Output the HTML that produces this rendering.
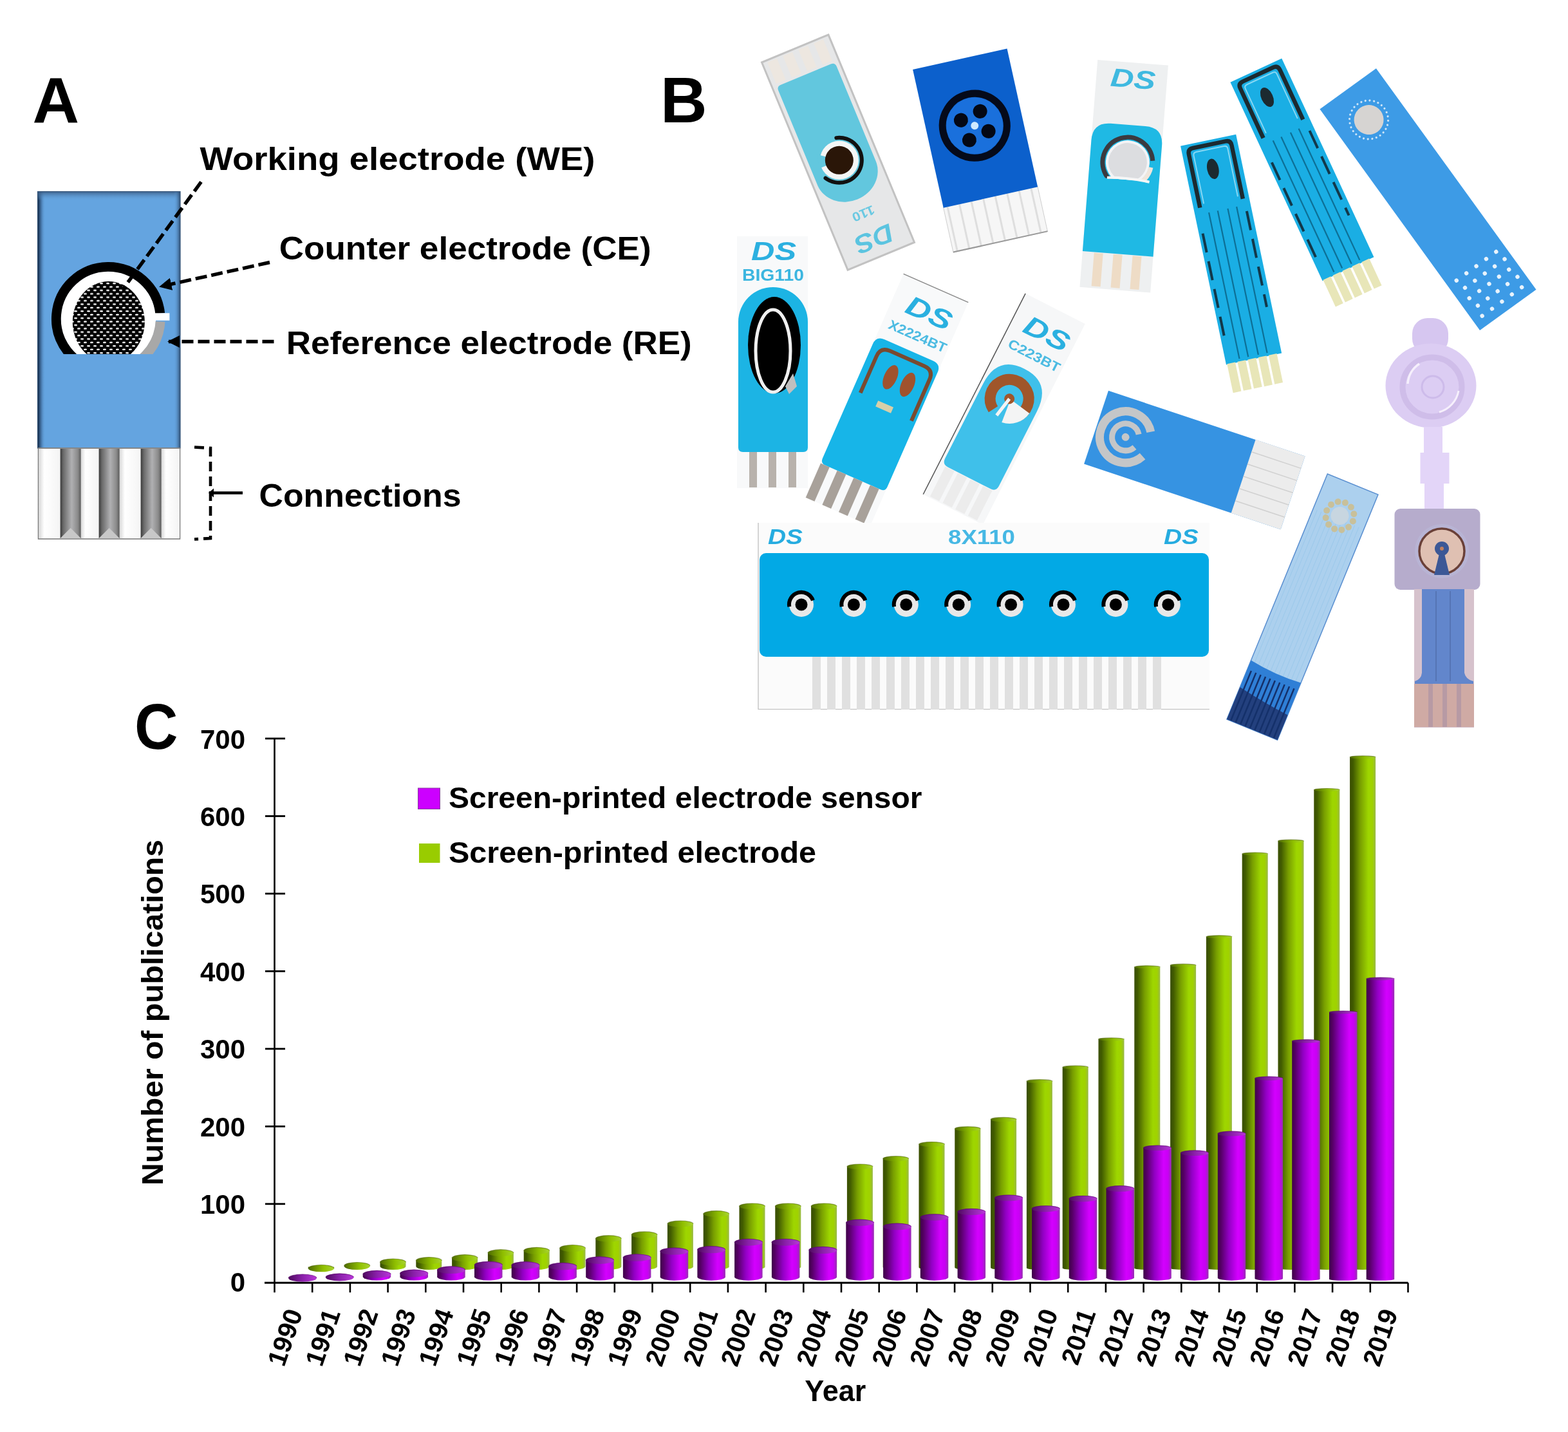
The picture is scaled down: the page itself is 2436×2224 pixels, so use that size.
<!DOCTYPE html>
<html><head><meta charset="utf-8"><title>Screen-printed electrodes</title>
<style>
html,body{margin:0;padding:0;background:#fff;}
svg{display:block;}
text{font-family:'Liberation Sans', Arial, sans-serif;}
</style></head>
<body>
<svg width="2436" height="2224" viewBox="0 0 2436 2224">
<defs>
<pattern id="mesh" x="0" y="0" width="10" height="10.8" patternUnits="userSpaceOnUse">
  <rect width="10" height="10.8" fill="#000"/>
  <ellipse cx="2.5" cy="2.7" rx="2.6" ry="1.3" fill="#fff"/>
  <ellipse cx="7.5" cy="8.1" rx="2.6" ry="1.3" fill="#fff"/>
</pattern>
<linearGradient id="pinG" x1="0" x2="1" y1="0" y2="0">
  <stop offset="0" stop-color="#3a3a3a"/>
  <stop offset="0.15" stop-color="#6a6a6a"/>
  <stop offset="0.55" stop-color="#b0b0b2"/>
  <stop offset="0.85" stop-color="#8a8a8a"/>
  <stop offset="1" stop-color="#5a5a5a"/>
</linearGradient>
<linearGradient id="whG" x1="0" x2="1" y1="0" y2="0">
  <stop offset="0" stop-color="#d8d8d8"/>
  <stop offset="0.25" stop-color="#ffffff"/>
  <stop offset="1" stop-color="#f4f4f4"/>
</linearGradient>
<linearGradient id="purG" x1="0" x2="1" y1="0" y2="0">
  <stop offset="0" stop-color="#3e0048"/>
  <stop offset="0.12" stop-color="#560066"/>
  <stop offset="0.4" stop-color="#9200c4"/>
  <stop offset="0.72" stop-color="#d400ff"/>
  <stop offset="0.88" stop-color="#c800f4"/>
  <stop offset="1" stop-color="#9630b0"/>
</linearGradient>
<linearGradient id="purT" x1="0" x2="1" y1="0" y2="0">
  <stop offset="0" stop-color="#4e0a5e"/>
  <stop offset="0.5" stop-color="#8a20aa"/>
  <stop offset="1" stop-color="#b838d8"/>
</linearGradient>
<linearGradient id="grnT" x1="0" x2="1" y1="0" y2="0">
  <stop offset="0" stop-color="#4e6a00"/>
  <stop offset="0.6" stop-color="#90c000"/>
  <stop offset="1" stop-color="#a8d430"/>
</linearGradient>
<linearGradient id="grnG" x1="0" x2="1" y1="0" y2="0">
  <stop offset="0" stop-color="#3a4e00"/>
  <stop offset="0.12" stop-color="#405a00"/>
  <stop offset="0.4" stop-color="#789e00"/>
  <stop offset="0.72" stop-color="#9ed600"/>
  <stop offset="0.88" stop-color="#a0d200"/>
  <stop offset="1" stop-color="#98b848"/>
</linearGradient>
<marker id="arr" viewBox="0 0 10 10" refX="9" refY="5" markerWidth="3.6" markerHeight="3.6" orient="auto-start-reverse" markerUnits="strokeWidth">
  <path d="M0,0 L10,5 L0,10 z" fill="#000"/>
</marker>
<linearGradient id="shL" x1="0" x2="1" y1="0" y2="0">
  <stop offset="0" stop-color="#0a1a30" stop-opacity="0.95"/>
  <stop offset="0.45" stop-color="#1e3a60" stop-opacity="0.45"/>
  <stop offset="1" stop-color="#64a4e0" stop-opacity="0"/>
</linearGradient>
<linearGradient id="shR" x1="1" x2="0" y1="0" y2="0">
  <stop offset="0" stop-color="#2a4668" stop-opacity="0.9"/>
  <stop offset="1" stop-color="#64a4e0" stop-opacity="0"/>
</linearGradient>
<linearGradient id="shT" x1="0" x2="0" y1="0" y2="1">
  <stop offset="0" stop-color="#3a5a80" stop-opacity="0.9"/>
  <stop offset="1" stop-color="#64a4e0" stop-opacity="0"/>
</linearGradient>
<clipPath id="elClip"><rect x="60" y="380" width="220" height="170"/></clipPath>
</defs>
<rect width="2436" height="2224" fill="#fff"/>
<text x="50.5" y="191" font-size="100.5" font-weight="bold" fill="#000" text-anchor="start" >A</text>
<rect x="58.5" y="297.5" width="221.5" height="398.5" fill="#64a4e0"/>
<rect x="58.5" y="297.5" width="12" height="398.5" fill="url(#shL)"/>
<rect x="58.5" y="297.5" width="221.5" height="14" fill="url(#shT)"/>
<rect x="270" y="297.5" width="10" height="398.5" fill="url(#shR)"/>
<rect x="58.5" y="297.5" width="221.5" height="398.5" fill="none" stroke="#35557a" stroke-width="1.2"/>
<g clip-path="url(#elClip)">
<circle cx="168.2" cy="495.2" r="74" fill="#fff"/>
<ellipse cx="168.8" cy="500" rx="56" ry="63" fill="url(#mesh)"/>
<path d="M 154.2 574.9 A 80.9 80.9 0 1 1 248.7 486.7" fill="none" stroke="#000" stroke-width="14.8"/>
<path d="M 249.0 499.4 A 80.9 80.9 0 0 1 175.3 575.8" fill="none" stroke="#a8a8a8" stroke-width="14.8"/>
</g>
<rect x="238" y="486.3" width="25.4" height="11.4" fill="#fff"/>
<rect x="59.5" y="696" width="220" height="141" fill="#fff" stroke="#777" stroke-width="1.5"/>
<rect x="60.5" y="697" width="33.099999999999994" height="139" fill="url(#whG)"/>
<rect x="125.7" y="697" width="27.89999999999999" height="139" fill="url(#whG)"/>
<rect x="185.7" y="697" width="32.900000000000006" height="139" fill="url(#whG)"/>
<rect x="250.7" y="697" width="28.30000000000001" height="139" fill="url(#whG)"/>
<rect x="93.6" y="697" width="32.10000000000001" height="139" fill="url(#pinG)"/>
<path d="M 93.6 836 L 109.65 820 L 125.7 836 Z" fill="#c8c8c8"/>
<rect x="153.6" y="697" width="32.099999999999994" height="139" fill="url(#pinG)"/>
<path d="M 153.6 836 L 169.64999999999998 820 L 185.7 836 Z" fill="#c8c8c8"/>
<rect x="218.6" y="697" width="32.099999999999994" height="139" fill="url(#pinG)"/>
<path d="M 218.6 836 L 234.64999999999998 820 L 250.7 836 Z" fill="#c8c8c8"/>
<line x1="59.5" y1="696" x2="279.5" y2="696" stroke="#888" stroke-width="1.5"/>
<g stroke="#000" stroke-width="5.4" stroke-dasharray="18 7" fill="none">
<line x1="312.5" y1="282.5" x2="191" y2="449"/>
<line x1="419" y1="407.5" x2="249" y2="445" marker-end="url(#arr)"/>
<line x1="425.5" y1="530.5" x2="262" y2="530.5" marker-end="url(#arr)"/>
</g>
<g stroke="#000" stroke-width="4.6" fill="none">
<path d="M 302 694.5 L 327 696 L 327 836 L 302 837.5" stroke-dasharray="15 8"/>
<line x1="329" y1="765.5" x2="377" y2="765.5" />
</g>
<path d="M 332 758.5 L 324 765.5 L 332 772.5 Z" fill="#000"/>
<text x="310.5" y="263.8" font-size="49.3" font-weight="bold" fill="#000" text-anchor="start" textLength="614" lengthAdjust="spacingAndGlyphs" >Working electrode (WE)</text>
<text x="433.7" y="403.3" font-size="49.3" font-weight="bold" fill="#000" text-anchor="start" textLength="578" lengthAdjust="spacingAndGlyphs" >Counter electrode (CE)</text>
<text x="444.7" y="549.7" font-size="49.3" font-weight="bold" fill="#000" text-anchor="start" textLength="630" lengthAdjust="spacingAndGlyphs" >Reference electrode (RE)</text>
<text x="402.5" y="786.8" font-size="49.3" font-weight="bold" fill="#000" text-anchor="start" textLength="314" lengthAdjust="spacingAndGlyphs" >Connections</text>
<text x="1026" y="190" font-size="100.5" font-weight="bold" fill="#000" text-anchor="start" >B</text>
<g transform="translate(1302 236.6) rotate(-22.5)"><rect x="-56" y="-174.5" width="112" height="349" fill="#e6e7e8" stroke="#c2c2c2" stroke-width="3"/><rect x="-48" y="-171" width="16" height="36" fill="#ede7e0"/><rect x="-22" y="-171" width="16" height="36" fill="#ede7e0"/><rect x="4" y="-171" width="16" height="36" fill="#ede7e0"/><rect x="30" y="-171" width="16" height="36" fill="#ede7e0"/><path d="M -49 -124 Q -49 -131 -42 -131 L 42 -131 Q 49 -131 49 -124 L 49 35 A 49 44 0 0 1 -49 35 Z" fill="#62c7de"/><circle cx="-3" cy="12" r="30" fill="#f4f6f6"/><path d="M -3 12 L -32 -10 L -36 12 Z" fill="#62c7de"/><circle cx="-3" cy="12" r="22" fill="#2a1608"/><path d="M 6.1 -21.8 A 35 35 0 1 1 -33.3 29.5" fill="none" stroke="#111" stroke-width="6" stroke-linecap="round"/><text x="0" y="96" font-size="20" fill="#6bc9e2" text-anchor="middle" style="font-family:'Liberation Sans',Arial,sans-serif;font-weight:bold" textLength="36" lengthAdjust="spacingAndGlyphs" transform="rotate(180 0 96)">110</text><text x="0" y="132" font-size="40" fill="#5bc4e0" text-anchor="middle" style="font-family:'Liberation Sans',Arial,sans-serif;font-weight:bold;font-style:italic" textLength="62" lengthAdjust="spacingAndGlyphs" transform="rotate(180 0 132)">DS</text></g>
<g transform="translate(1522.7 233.3) rotate(-12.5)"><rect x="-75" y="74" width="150" height="72" fill="#f6f6f6" stroke="#cfcfcf" stroke-width="1"/><rect x="-70" y="75" width="3" height="70" fill="#dedede"/><rect x="-51" y="75" width="3" height="70" fill="#dedede"/><rect x="-32" y="75" width="3" height="70" fill="#dedede"/><rect x="-13" y="75" width="3" height="70" fill="#dedede"/><rect x="6" y="75" width="3" height="70" fill="#dedede"/><rect x="25" y="75" width="3" height="70" fill="#dedede"/><rect x="44" y="75" width="3" height="70" fill="#dedede"/><rect x="63" y="75" width="3" height="70" fill="#dedede"/><line x1="-75" y1="145.5" x2="75" y2="145.5" stroke="#999" stroke-width="2"/><rect x="-75" y="-145" width="150" height="220" fill="#0c60cc"/><circle cx="0" cy="-39" r="44" fill="#1a70dc"/><circle cx="0" cy="-39" r="50" fill="none" stroke="#050a1a" stroke-width="11"/><circle cx="-19" cy="-52" r="11" fill="#040814"/><circle cx="13" cy="-59" r="11" fill="#040814"/><circle cx="19" cy="-26" r="11" fill="#040814"/><circle cx="-13" cy="-19" r="11" fill="#040814"/><circle cx="0" cy="-39" r="6" fill="#cfeaff"/></g>
<g transform="translate(1746.2 273.7) rotate(4.5)"><rect x="-55" y="-177" width="110" height="354" fill="#eef0f1"/><text x="2" y="-138" font-size="40" fill="#3fb9e0" text-anchor="middle" style="font-family:'Liberation Sans',Arial,sans-serif;font-weight:bold;font-style:italic" textLength="70" lengthAdjust="spacingAndGlyphs">DS</text><path d="M -55 -52 Q -55 -80 -27 -80 L 27 -80 Q 55 -80 55 -52 L 55 121 L -55 121 Z" fill="#1fb9e4"/><clipPath id="s3clip"><rect x="-60" y="-90" width="120" height="95"/></clipPath><g clip-path="url(#s3clip)"><circle cx="4" cy="-22" r="34" fill="#f4f4f6"/><circle cx="4" cy="-22" r="30" fill="#dcdde0"/><path d="M -15.5 11.8 A 39 39 0 1 1 42.6 -27.4" fill="none" stroke="#3a3a40" stroke-width="7"/><path d="M 40.6 -16.9 A 37 37 0 0 1 16.7 12.8" fill="none" stroke="#efe6dc" stroke-width="7"/></g><path d="M -26 4 Q 8 1 40 6" fill="none" stroke="#f6f6f6" stroke-width="4"/><rect x="-37" y="122" width="14" height="52" fill="#eedcc6"/><rect x="-7" y="122" width="14" height="52" fill="#eedcc6"/><rect x="23" y="122" width="14" height="52" fill="#eedcc6"/></g>
<g transform="translate(1917.2 409.7) rotate(-11.8)"><rect x="-44" y="-196.0" width="88" height="347" fill="#1aaee4"/><rect x="-42.5" y="150.0" width="13" height="46" fill="#e8e6b8"/><rect x="-26.0" y="150.0" width="13" height="46" fill="#e8e6b8"/><rect x="-9.5" y="150.0" width="13" height="46" fill="#e8e6b8"/><rect x="7.0" y="150.0" width="13" height="46" fill="#e8e6b8"/><rect x="23.5" y="150.0" width="13" height="46" fill="#e8e6b8"/><path d="M -34 -96.0 L -34 -181.0 Q -34 -189.0 -26 -189.0 L 26 -189.0 Q 34 -189.0 34 -181.0 L 34 -96.0" fill="none" stroke="#1c2a30" stroke-width="6.5"/><path d="M -27 -101.0 L -27 -177.0 Q -27 -182.0 -22 -182.0 L 22 -182.0 Q 27 -182.0 27 -177.0 L 27 -101.0" fill="none" stroke="#86d8f4" stroke-width="2"/><ellipse cx="-2" cy="-151.0" rx="9" ry="16" fill="#1c2a30"/><line x1="-22" y1="-86.0" x2="-22" y2="146.0" stroke="#0d6f96" stroke-width="2.2"/><line x1="-8" y1="-86.0" x2="-8" y2="146.0" stroke="#0d6f96" stroke-width="2.2"/><line x1="8" y1="-86.0" x2="8" y2="146.0" stroke="#0d6f96" stroke-width="2.2"/><line x1="22" y1="-86.0" x2="22" y2="146.0" stroke="#0d6f96" stroke-width="2.2"/><line x1="-38" y1="-56.0" x2="-38" y2="116.0" stroke="#12384a" stroke-width="4" stroke-dasharray="30 14"/><line x1="36" y1="-76.0" x2="36" y2="76.0" stroke="#12384a" stroke-width="4" stroke-dasharray="30 14"/></g>
<g transform="translate(2032.4 283.9) rotate(-24.9)"><rect x="-44" y="-192.5" width="88" height="340" fill="#1aaee4"/><rect x="-42.5" y="146.5" width="13" height="46" fill="#e8e6b8"/><rect x="-26.0" y="146.5" width="13" height="46" fill="#e8e6b8"/><rect x="-9.5" y="146.5" width="13" height="46" fill="#e8e6b8"/><rect x="7.0" y="146.5" width="13" height="46" fill="#e8e6b8"/><rect x="23.5" y="146.5" width="13" height="46" fill="#e8e6b8"/><path d="M -34 -92.5 L -34 -177.5 Q -34 -185.5 -26 -185.5 L 26 -185.5 Q 34 -185.5 34 -177.5 L 34 -92.5" fill="none" stroke="#1c2a30" stroke-width="6.5"/><path d="M -27 -97.5 L -27 -173.5 Q -27 -178.5 -22 -178.5 L 22 -178.5 Q 27 -178.5 27 -173.5 L 27 -97.5" fill="none" stroke="#86d8f4" stroke-width="2"/><ellipse cx="-2" cy="-147.5" rx="9" ry="16" fill="#1c2a30"/><line x1="-22" y1="-82.5" x2="-22" y2="142.5" stroke="#0d6f96" stroke-width="2.2"/><line x1="-8" y1="-82.5" x2="-8" y2="142.5" stroke="#0d6f96" stroke-width="2.2"/><line x1="8" y1="-82.5" x2="8" y2="142.5" stroke="#0d6f96" stroke-width="2.2"/><line x1="22" y1="-82.5" x2="22" y2="142.5" stroke="#0d6f96" stroke-width="2.2"/><line x1="-38" y1="-52.5" x2="-38" y2="112.5" stroke="#12384a" stroke-width="4" stroke-dasharray="30 14"/><line x1="36" y1="-72.5" x2="36" y2="72.5" stroke="#12384a" stroke-width="4" stroke-dasharray="30 14"/></g>
<g transform="translate(2218.5 309.6) rotate(-35.9)"><rect x="-54" y="-212" width="108" height="424" fill="#3d9be6"/><circle cx="-2" cy="-154" r="23" fill="#d6d4d2"/><circle cx="28.0" cy="-154.0" r="1.6" fill="#cfe6f8"/><circle cx="27.2" cy="-147.3" r="1.6" fill="#cfe6f8"/><circle cx="25.0" cy="-141.0" r="1.6" fill="#cfe6f8"/><circle cx="21.5" cy="-135.3" r="1.6" fill="#cfe6f8"/><circle cx="16.7" cy="-130.5" r="1.6" fill="#cfe6f8"/><circle cx="11.0" cy="-127.0" r="1.6" fill="#cfe6f8"/><circle cx="4.7" cy="-124.8" r="1.6" fill="#cfe6f8"/><circle cx="-2.0" cy="-124.0" r="1.6" fill="#cfe6f8"/><circle cx="-8.7" cy="-124.8" r="1.6" fill="#cfe6f8"/><circle cx="-15.0" cy="-127.0" r="1.6" fill="#cfe6f8"/><circle cx="-20.7" cy="-130.5" r="1.6" fill="#cfe6f8"/><circle cx="-25.5" cy="-135.3" r="1.6" fill="#cfe6f8"/><circle cx="-29.0" cy="-141.0" r="1.6" fill="#cfe6f8"/><circle cx="-31.2" cy="-147.3" r="1.6" fill="#cfe6f8"/><circle cx="-32.0" cy="-154.0" r="1.6" fill="#cfe6f8"/><circle cx="-31.2" cy="-160.7" r="1.6" fill="#cfe6f8"/><circle cx="-29.0" cy="-167.0" r="1.6" fill="#cfe6f8"/><circle cx="-25.5" cy="-172.7" r="1.6" fill="#cfe6f8"/><circle cx="-20.7" cy="-177.5" r="1.6" fill="#cfe6f8"/><circle cx="-15.0" cy="-181.0" r="1.6" fill="#cfe6f8"/><circle cx="-8.7" cy="-183.2" r="1.6" fill="#cfe6f8"/><circle cx="-2.0" cy="-184.0" r="1.6" fill="#cfe6f8"/><circle cx="4.7" cy="-183.2" r="1.6" fill="#cfe6f8"/><circle cx="11.0" cy="-181.0" r="1.6" fill="#cfe6f8"/><circle cx="16.7" cy="-177.5" r="1.6" fill="#cfe6f8"/><circle cx="21.5" cy="-172.7" r="1.6" fill="#cfe6f8"/><circle cx="25.0" cy="-167.0" r="1.6" fill="#cfe6f8"/><circle cx="27.2" cy="-160.7" r="1.6" fill="#cfe6f8"/><circle cx="-38" cy="128" r="3.2" fill="#e8f3fc"/><circle cx="-19" cy="128" r="3.2" fill="#e8f3fc"/><circle cx="0" cy="128" r="3.2" fill="#e8f3fc"/><circle cx="19" cy="128" r="3.2" fill="#e8f3fc"/><circle cx="38" cy="128" r="3.2" fill="#e8f3fc"/><circle cx="-34" cy="145" r="3.2" fill="#e8f3fc"/><circle cx="-15" cy="145" r="3.2" fill="#e8f3fc"/><circle cx="4" cy="145" r="3.2" fill="#e8f3fc"/><circle cx="23" cy="145" r="3.2" fill="#e8f3fc"/><circle cx="42" cy="145" r="3.2" fill="#e8f3fc"/><circle cx="-38" cy="162" r="3.2" fill="#e8f3fc"/><circle cx="-19" cy="162" r="3.2" fill="#e8f3fc"/><circle cx="0" cy="162" r="3.2" fill="#e8f3fc"/><circle cx="19" cy="162" r="3.2" fill="#e8f3fc"/><circle cx="38" cy="162" r="3.2" fill="#e8f3fc"/><circle cx="-34" cy="179" r="3.2" fill="#e8f3fc"/><circle cx="-15" cy="179" r="3.2" fill="#e8f3fc"/><circle cx="4" cy="179" r="3.2" fill="#e8f3fc"/><circle cx="23" cy="179" r="3.2" fill="#e8f3fc"/><circle cx="42" cy="179" r="3.2" fill="#e8f3fc"/><circle cx="-38" cy="196" r="3.2" fill="#e8f3fc"/><circle cx="-19" cy="196" r="3.2" fill="#e8f3fc"/><circle cx="0" cy="196" r="3.2" fill="#e8f3fc"/><circle cx="19" cy="196" r="3.2" fill="#e8f3fc"/><circle cx="38" cy="196" r="3.2" fill="#e8f3fc"/></g>
<rect x="1145" y="367" width="110" height="391" fill="#f8f9fa"/><text x="1202" y="404" font-size="40" fill="#2cb0e0" text-anchor="middle" style="font-family:'Liberation Sans',Arial,sans-serif;font-weight:bold;font-style:italic" textLength="70" lengthAdjust="spacingAndGlyphs">DS</text><text x="1201" y="436" font-size="25" fill="#3cb6e0" text-anchor="middle" style="font-family:'Liberation Sans',Arial,sans-serif;font-weight:bold" textLength="96" lengthAdjust="spacingAndGlyphs">BIG110</text><path d="M 1147 500 A 54 54 0 0 1 1255 500 L 1255 695 Q 1255 702 1248 702 L 1154 702 Q 1147 702 1147 695 Z" fill="#1cb4e4"/><ellipse cx="1203" cy="536" rx="41" ry="75" fill="#000"/><ellipse cx="1201" cy="545" rx="27" ry="64" fill="none" stroke="#f0f0f0" stroke-width="5"/><path d="M 1220 600 L 1232 580 L 1238 600 L 1226 612 Z" fill="#bfbfbf"/><rect x="1147" y="612" width="108" height="6" fill="#1cb4e4"/><rect x="1164" y="702" width="12" height="55" fill="#b8b2ac"/><rect x="1194" y="702" width="12" height="55" fill="#b8b2ac"/><rect x="1225" y="702" width="12" height="55" fill="#b8b2ac"/>
<g transform="translate(1377.6 621.5) rotate(23.7)"><rect x="-55" y="-190" width="110" height="379" fill="#f8f9fa"/><line x1="-55" y1="-190" x2="55" y2="-190" stroke="#888" stroke-width="1.5"/><text x="6" y="-136" font-size="42" fill="#2ab0e0" text-anchor="middle" style="font-family:'Liberation Sans',Arial,sans-serif;font-weight:bold;font-style:italic" textLength="74" lengthAdjust="spacingAndGlyphs">DS</text><text x="4" y="-103" font-size="21" fill="#4cbbe2" text-anchor="middle" style="font-family:'Liberation Sans',Arial,sans-serif;font-weight:bold" textLength="96" lengthAdjust="spacingAndGlyphs">X2224BT</text><path d="M -55 -71 Q -55 -85 -41 -85 L 41 -85 Q 55 -85 55 -71 L 55 123 Q 55 131 47 131 L -47 131 Q -55 131 -55 123 Z" fill="#17b5e8"/><path d="M -42 6 L -42 -56 Q -42 -72 -26 -72 L 32 -72 Q 48 -72 48 -56 L 48 14" fill="none" stroke="#7a4a30" stroke-width="6"/><ellipse cx="-9" cy="-35" rx="10" ry="20" fill="#a0522d"/><ellipse cx="20" cy="-35" rx="10" ry="20" fill="#a0522d"/><rect x="-12" y="6" width="26" height="10" fill="#d8cfa8"/><rect x="-54.5" y="131" width="15" height="58" fill="#a8a19a"/><rect x="-26.5" y="131" width="15" height="58" fill="#a8a19a"/><rect x="1.5" y="131" width="15" height="58" fill="#a8a19a"/><rect x="29.5" y="131" width="15" height="58" fill="#a8a19a"/></g>
<g transform="translate(1560 635.4) rotate(27)"><rect x="-52" y="-175" width="104" height="350" fill="#f6f7f8"/><line x1="-52" y1="-175" x2="-52" y2="175" stroke="#555" stroke-width="1.5"/><text x="6" y="-120" font-size="42" fill="#2ab0e0" text-anchor="middle" style="font-family:'Liberation Sans',Arial,sans-serif;font-weight:bold;font-style:italic" textLength="74" lengthAdjust="spacingAndGlyphs">DS</text><text x="4" y="-88" font-size="21" fill="#4cbbe2" text-anchor="middle" style="font-family:'Liberation Sans',Arial,sans-serif;font-weight:bold" textLength="88" lengthAdjust="spacingAndGlyphs">C223BT</text><path d="M -47 -20 Q -47 -70 0 -70 Q 47 -70 47 -20 L 47 110 Q 47 120 37 120 L -37 120 Q -47 120 -47 110 Z" fill="#3fc0ea"/><path d="M -15.0 8.0 A 30 30 0 1 1 23.0 1.3" fill="none" stroke="#a0562a" stroke-width="17"/><path d="M 2 -18 L 38 -12 A 38 38 0 0 1 6 20 Z" fill="#f4f4f4"/><circle cx="0" cy="-18" r="8" fill="#a0562a"/><line x1="0" y1="-18" x2="-6" y2="14" stroke="#f4f4f4" stroke-width="5"/><rect x="-41" y="121" width="16" height="52" fill="#ececec"/><rect x="-19" y="121" width="16" height="52" fill="#ececec"/><rect x="3" y="121" width="16" height="52" fill="#ececec"/><rect x="25" y="121" width="16" height="52" fill="#ececec"/></g>
<g transform="translate(1855.8 714.5) rotate(18.4)"><rect x="-161" y="-60" width="322" height="120" fill="#3693e2"/><rect x="80" y="-60" width="81" height="120" fill="#ececec"/><line x1="80" y1="-40" x2="161" y2="-40" stroke="#d0d0d0" stroke-width="1.5"/><line x1="80" y1="-20" x2="161" y2="-20" stroke="#d0d0d0" stroke-width="1.5"/><line x1="80" y1="0" x2="161" y2="0" stroke="#d0d0d0" stroke-width="1.5"/><line x1="80" y1="20" x2="161" y2="20" stroke="#d0d0d0" stroke-width="1.5"/><line x1="80" y1="40" x2="161" y2="40" stroke="#d0d0d0" stroke-width="1.5"/><path d="M -78.4 20.0 A 40 40 0 1 1 -78.4 -20.0" fill="none" stroke="#c4c6c8" stroke-width="13"/><path d="M -94.8 10.5 A 21 21 0 1 1 -94.8 -10.5" fill="none" stroke="#c4c6c8" stroke-width="9"/><circle cx="-113" cy="0" r="6" fill="#c4c6c8"/></g>
<g transform="translate(2022.7 944.5) rotate(22.3)"><rect x="-42.5" y="-208" width="85" height="412" fill="#acd0ee" stroke="#5a8fd0" stroke-width="1.5"/><line x1="-36" y1="-150" x2="-36" y2="150" stroke="#9cc8ea" stroke-width="1"/><line x1="-29" y1="-150" x2="-29" y2="150" stroke="#9cc8ea" stroke-width="1"/><line x1="-22" y1="-150" x2="-22" y2="150" stroke="#9cc8ea" stroke-width="1"/><line x1="-15" y1="-150" x2="-15" y2="150" stroke="#9cc8ea" stroke-width="1"/><line x1="-8" y1="-150" x2="-8" y2="150" stroke="#9cc8ea" stroke-width="1"/><line x1="-1" y1="-150" x2="-1" y2="150" stroke="#9cc8ea" stroke-width="1"/><line x1="6" y1="-150" x2="6" y2="150" stroke="#9cc8ea" stroke-width="1"/><line x1="13" y1="-150" x2="13" y2="150" stroke="#9cc8ea" stroke-width="1"/><line x1="20" y1="-150" x2="20" y2="150" stroke="#9cc8ea" stroke-width="1"/><line x1="27" y1="-150" x2="27" y2="150" stroke="#9cc8ea" stroke-width="1"/><line x1="34" y1="-150" x2="34" y2="150" stroke="#9cc8ea" stroke-width="1"/><circle cx="0" cy="-155" r="14" fill="#c8d6e0"/><circle cx="22.0" cy="-155.0" r="5" fill="#c8c09a"/><circle cx="19.1" cy="-144.0" r="5" fill="#c8c09a"/><circle cx="11.0" cy="-135.9" r="5" fill="#c8c09a"/><circle cx="0.0" cy="-133.0" r="5" fill="#c8c09a"/><circle cx="-11.0" cy="-135.9" r="5" fill="#c8c09a"/><circle cx="-19.1" cy="-144.0" r="5" fill="#c8c09a"/><circle cx="-22.0" cy="-155.0" r="5" fill="#c8c09a"/><circle cx="-19.1" cy="-166.0" r="5" fill="#c8c09a"/><circle cx="-11.0" cy="-174.1" r="5" fill="#c8c09a"/><circle cx="-0.0" cy="-177.0" r="5" fill="#c8c09a"/><circle cx="11.0" cy="-174.1" r="5" fill="#c8c09a"/><circle cx="19.1" cy="-166.0" r="5" fill="#c8c09a"/><path d="M -42.5 105 Q 0 112 42.5 108 L 42.5 204 L -42.5 204 Z" fill="#2f7fd6"/><path d="M -42.5 150 Q 0 158 42.5 162 L 42.5 204 L -42.5 204 Z" fill="#23407e"/><line x1="-36" y1="120" x2="-36" y2="203" stroke="#14306a" stroke-width="2.5"/><line x1="-28" y1="120" x2="-28" y2="203" stroke="#14306a" stroke-width="2.5"/><line x1="-20" y1="120" x2="-20" y2="203" stroke="#14306a" stroke-width="2.5"/><line x1="-12" y1="120" x2="-12" y2="203" stroke="#14306a" stroke-width="2.5"/><line x1="-4" y1="120" x2="-4" y2="203" stroke="#14306a" stroke-width="2.5"/><line x1="4" y1="120" x2="4" y2="203" stroke="#14306a" stroke-width="2.5"/><line x1="12" y1="120" x2="12" y2="203" stroke="#14306a" stroke-width="2.5"/><line x1="20" y1="120" x2="20" y2="203" stroke="#14306a" stroke-width="2.5"/><line x1="28" y1="120" x2="28" y2="203" stroke="#14306a" stroke-width="2.5"/><line x1="36" y1="120" x2="36" y2="203" stroke="#14306a" stroke-width="2.5"/></g>
<rect x="2194" y="494" width="56" height="56" rx="24" fill="#d6c6f0"/><ellipse cx="2223" cy="599" rx="70.5" ry="65.5" fill="#dccdf3"/><circle cx="2225" cy="601" r="46" fill="none" stroke="#cfbde9" stroke-width="9"/><circle cx="2226" cy="601" r="17" fill="none" stroke="#cdbbea" stroke-width="3"/><path d="M 2187 596 A 40 40 0 0 1 2205 565" fill="none" stroke="#f6f0fc" stroke-width="3.5"/><path d="M 2266 607 A 42 42 0 0 1 2236 640" fill="none" stroke="#f6f0fc" stroke-width="3"/><path d="M 2212 663 L 2241 663 L 2241 703 L 2251.5 703 L 2251.5 751 L 2243 751 L 2243 790 L 2213 790 L 2213 751 L 2206.5 751 L 2206.5 703 L 2212 703 Z" fill="#e3d5f8"/><rect x="2166.5" y="790" width="133" height="126" rx="9" fill="#b6accc"/><rect x="2197" y="915" width="93" height="215" fill="#d6c2cc"/><path d="M 2209 915 L 2275 915 L 2275 1045 Q 2277 1055 2289 1058 L 2289 1062 L 2198 1062 L 2198 1058 Q 2208 1055 2209 1045 Z" fill="#6286cc"/><line x1="2231" y1="918" x2="2231" y2="1058" stroke="#5574b4" stroke-width="2"/><line x1="2253" y1="918" x2="2253" y2="1058" stroke="#5574b4" stroke-width="2"/><rect x="2197" y="1062" width="93" height="67" fill="#cfaaa4"/><rect x="2219" y="1062" width="7" height="67" fill="#b79aa4"/><rect x="2241" y="1062" width="7" height="67" fill="#b79aa4"/><rect x="2263" y="1062" width="7" height="67" fill="#b79aa4"/><circle cx="2240" cy="856" r="42" fill="#b8b4d4"/><circle cx="2240" cy="856" r="35" fill="#dfc0b2" stroke="#6a4038" stroke-width="3.5"/><path d="M 2228 893 L 2236 860 L 2244 860 L 2252 893 Z" fill="#3c5896"/><circle cx="2240" cy="852" r="11" fill="#3c5896"/><circle cx="2240" cy="852" r="3" fill="#c08060"/>
<rect x="1178" y="812" width="701" height="290" fill="#fbfbfb"/><line x1="1178" y1="812" x2="1178" y2="1102" stroke="#bbb" stroke-width="1.2"/><line x1="1178" y1="1101.5" x2="1879" y2="1101.5" stroke="#bbb" stroke-width="1.2"/><text x="1220" y="845" font-size="33" fill="#26ace0" text-anchor="middle" style="font-family:'Liberation Sans',Arial,sans-serif;font-weight:bold;font-style:italic" textLength="54" lengthAdjust="spacingAndGlyphs">DS</text><text x="1525" y="845" font-size="32" fill="#46b8e4" text-anchor="middle" style="font-family:'Liberation Sans',Arial,sans-serif;font-weight:bold" textLength="104" lengthAdjust="spacingAndGlyphs">8X110</text><text x="1835" y="845" font-size="33" fill="#26ace0" text-anchor="middle" style="font-family:'Liberation Sans',Arial,sans-serif;font-weight:bold;font-style:italic" textLength="54" lengthAdjust="spacingAndGlyphs">DS</text><rect x="1262" y="1020" width="13" height="82" fill="#e0e0e0"/><rect x="1285" y="1020" width="13" height="82" fill="#e0e0e0"/><rect x="1308" y="1020" width="13" height="82" fill="#e0e0e0"/><rect x="1331" y="1020" width="13" height="82" fill="#e0e0e0"/><rect x="1354" y="1020" width="13" height="82" fill="#e0e0e0"/><rect x="1377" y="1020" width="13" height="82" fill="#e0e0e0"/><rect x="1400" y="1020" width="13" height="82" fill="#e0e0e0"/><rect x="1423" y="1020" width="13" height="82" fill="#e0e0e0"/><rect x="1446" y="1020" width="13" height="82" fill="#e0e0e0"/><rect x="1469" y="1020" width="13" height="82" fill="#e0e0e0"/><rect x="1492" y="1020" width="13" height="82" fill="#e0e0e0"/><rect x="1515" y="1020" width="13" height="82" fill="#e0e0e0"/><rect x="1538" y="1020" width="13" height="82" fill="#e0e0e0"/><rect x="1561" y="1020" width="13" height="82" fill="#e0e0e0"/><rect x="1584" y="1020" width="13" height="82" fill="#e0e0e0"/><rect x="1607" y="1020" width="13" height="82" fill="#e0e0e0"/><rect x="1630" y="1020" width="13" height="82" fill="#e0e0e0"/><rect x="1653" y="1020" width="13" height="82" fill="#e0e0e0"/><rect x="1676" y="1020" width="13" height="82" fill="#e0e0e0"/><rect x="1699" y="1020" width="13" height="82" fill="#e0e0e0"/><rect x="1722" y="1020" width="13" height="82" fill="#e0e0e0"/><rect x="1745" y="1020" width="13" height="82" fill="#e0e0e0"/><rect x="1768" y="1020" width="13" height="82" fill="#e0e0e0"/><rect x="1791" y="1020" width="13" height="82" fill="#e0e0e0"/><rect x="1180" y="859" width="698" height="161" rx="10" fill="#02a9e5"/><circle cx="1245.0" cy="939" r="19" fill="#e8e8e8"/><path d="M 1226.3 942.3 A 19 19 0 0 1 1262.9 932.5" fill="none" stroke="#000" stroke-width="6"/><circle cx="1245.0" cy="939" r="9.5" fill="#000"/><circle cx="1326.4" cy="939" r="19" fill="#e8e8e8"/><path d="M 1307.7 942.3 A 19 19 0 0 1 1344.3 932.5" fill="none" stroke="#000" stroke-width="6"/><circle cx="1326.4" cy="939" r="9.5" fill="#000"/><circle cx="1407.8" cy="939" r="19" fill="#e8e8e8"/><path d="M 1389.1 942.3 A 19 19 0 0 1 1425.7 932.5" fill="none" stroke="#000" stroke-width="6"/><circle cx="1407.8" cy="939" r="9.5" fill="#000"/><circle cx="1489.2" cy="939" r="19" fill="#e8e8e8"/><path d="M 1470.5 942.3 A 19 19 0 0 1 1507.1 932.5" fill="none" stroke="#000" stroke-width="6"/><circle cx="1489.2" cy="939" r="9.5" fill="#000"/><circle cx="1570.6" cy="939" r="19" fill="#e8e8e8"/><path d="M 1551.9 942.3 A 19 19 0 0 1 1588.5 932.5" fill="none" stroke="#000" stroke-width="6"/><circle cx="1570.6" cy="939" r="9.5" fill="#000"/><circle cx="1652.0" cy="939" r="19" fill="#e8e8e8"/><path d="M 1633.3 942.3 A 19 19 0 0 1 1669.9 932.5" fill="none" stroke="#000" stroke-width="6"/><circle cx="1652.0" cy="939" r="9.5" fill="#000"/><circle cx="1733.4" cy="939" r="19" fill="#e8e8e8"/><path d="M 1714.7 942.3 A 19 19 0 0 1 1751.3 932.5" fill="none" stroke="#000" stroke-width="6"/><circle cx="1733.4" cy="939" r="9.5" fill="#000"/><circle cx="1814.8" cy="939" r="19" fill="#e8e8e8"/><path d="M 1796.1 942.3 A 19 19 0 0 1 1832.7 932.5" fill="none" stroke="#000" stroke-width="6"/><circle cx="1814.8" cy="939" r="9.5" fill="#000"/>
<text x="209" y="1163" font-size="100.5" font-weight="bold" fill="#000" text-anchor="start" textLength="67.5" lengthAdjust="spacingAndGlyphs" >C</text>
<line x1="426.5" y1="1146" x2="426.5" y2="1992.3" stroke="#000" stroke-width="2.6"/>
<line x1="411" y1="1992.3" x2="2187.5" y2="1992.3" stroke="#000" stroke-width="3"/>
<line x1="412" y1="1869.8" x2="443" y2="1869.8" stroke="#000" stroke-width="2.8"/>
<line x1="412" y1="1749.4" x2="443" y2="1749.4" stroke="#000" stroke-width="2.8"/>
<line x1="412" y1="1628.9" x2="443" y2="1628.9" stroke="#000" stroke-width="2.8"/>
<line x1="412" y1="1508.4" x2="443" y2="1508.4" stroke="#000" stroke-width="2.8"/>
<line x1="412" y1="1387.9" x2="443" y2="1387.9" stroke="#000" stroke-width="2.8"/>
<line x1="412" y1="1267.5" x2="443" y2="1267.5" stroke="#000" stroke-width="2.8"/>
<line x1="412" y1="1147.0" x2="443" y2="1147.0" stroke="#000" stroke-width="2.8"/>
<text x="381" y="2005.8" font-size="42" font-weight="bold" fill="#000" text-anchor="end" >0</text>
<text x="381" y="1885.3" font-size="42" font-weight="bold" fill="#000" text-anchor="end" >100</text>
<text x="381" y="1764.9" font-size="42" font-weight="bold" fill="#000" text-anchor="end" >200</text>
<text x="381" y="1644.4" font-size="42" font-weight="bold" fill="#000" text-anchor="end" >300</text>
<text x="381" y="1523.9" font-size="42" font-weight="bold" fill="#000" text-anchor="end" >400</text>
<text x="381" y="1403.4" font-size="42" font-weight="bold" fill="#000" text-anchor="end" >500</text>
<text x="381" y="1283.0" font-size="42" font-weight="bold" fill="#000" text-anchor="end" >600</text>
<text x="381" y="1162.5" font-size="42" font-weight="bold" fill="#000" text-anchor="end" >700</text>
<line x1="426.5" y1="1992.3" x2="426.5" y2="2007.3" stroke="#000" stroke-width="2.6"/>
<line x1="485.2" y1="1992.3" x2="485.2" y2="2007.3" stroke="#000" stroke-width="2.6"/>
<line x1="543.9" y1="1992.3" x2="543.9" y2="2007.3" stroke="#000" stroke-width="2.6"/>
<line x1="602.6" y1="1992.3" x2="602.6" y2="2007.3" stroke="#000" stroke-width="2.6"/>
<line x1="661.3" y1="1992.3" x2="661.3" y2="2007.3" stroke="#000" stroke-width="2.6"/>
<line x1="720.0" y1="1992.3" x2="720.0" y2="2007.3" stroke="#000" stroke-width="2.6"/>
<line x1="778.7" y1="1992.3" x2="778.7" y2="2007.3" stroke="#000" stroke-width="2.6"/>
<line x1="837.4" y1="1992.3" x2="837.4" y2="2007.3" stroke="#000" stroke-width="2.6"/>
<line x1="896.1" y1="1992.3" x2="896.1" y2="2007.3" stroke="#000" stroke-width="2.6"/>
<line x1="954.8" y1="1992.3" x2="954.8" y2="2007.3" stroke="#000" stroke-width="2.6"/>
<line x1="1013.5" y1="1992.3" x2="1013.5" y2="2007.3" stroke="#000" stroke-width="2.6"/>
<line x1="1072.2" y1="1992.3" x2="1072.2" y2="2007.3" stroke="#000" stroke-width="2.6"/>
<line x1="1130.9" y1="1992.3" x2="1130.9" y2="2007.3" stroke="#000" stroke-width="2.6"/>
<line x1="1189.6" y1="1992.3" x2="1189.6" y2="2007.3" stroke="#000" stroke-width="2.6"/>
<line x1="1248.3" y1="1992.3" x2="1248.3" y2="2007.3" stroke="#000" stroke-width="2.6"/>
<line x1="1307.0" y1="1992.3" x2="1307.0" y2="2007.3" stroke="#000" stroke-width="2.6"/>
<line x1="1365.7" y1="1992.3" x2="1365.7" y2="2007.3" stroke="#000" stroke-width="2.6"/>
<line x1="1424.4" y1="1992.3" x2="1424.4" y2="2007.3" stroke="#000" stroke-width="2.6"/>
<line x1="1483.1" y1="1992.3" x2="1483.1" y2="2007.3" stroke="#000" stroke-width="2.6"/>
<line x1="1541.8" y1="1992.3" x2="1541.8" y2="2007.3" stroke="#000" stroke-width="2.6"/>
<line x1="1600.5" y1="1992.3" x2="1600.5" y2="2007.3" stroke="#000" stroke-width="2.6"/>
<line x1="1659.2" y1="1992.3" x2="1659.2" y2="2007.3" stroke="#000" stroke-width="2.6"/>
<line x1="1717.9" y1="1992.3" x2="1717.9" y2="2007.3" stroke="#000" stroke-width="2.6"/>
<line x1="1776.6" y1="1992.3" x2="1776.6" y2="2007.3" stroke="#000" stroke-width="2.6"/>
<line x1="1835.3" y1="1992.3" x2="1835.3" y2="2007.3" stroke="#000" stroke-width="2.6"/>
<line x1="1894.0" y1="1992.3" x2="1894.0" y2="2007.3" stroke="#000" stroke-width="2.6"/>
<line x1="1952.7" y1="1992.3" x2="1952.7" y2="2007.3" stroke="#000" stroke-width="2.6"/>
<line x1="2011.4" y1="1992.3" x2="2011.4" y2="2007.3" stroke="#000" stroke-width="2.6"/>
<line x1="2070.1" y1="1992.3" x2="2070.1" y2="2007.3" stroke="#000" stroke-width="2.6"/>
<line x1="2128.8" y1="1992.3" x2="2128.8" y2="2007.3" stroke="#000" stroke-width="2.6"/>
<line x1="2187.5" y1="1992.3" x2="2187.5" y2="2007.3" stroke="#000" stroke-width="2.6"/>
<path d="M 478.9 1969.9 L 478.9 1966.6 A 20.0 5.4 0 0 0 518.9 1966.6 L 518.9 1969.9 Z" fill="url(#grnG)"/><ellipse cx="498.9" cy="1969.9" rx="20.0" ry="5.4" fill="url(#grnT)"/><path d="M 478.9 1969.9 A 20.0 5.4 0 0 1 518.9 1969.9" fill="none" stroke="#4a6000" stroke-width="1.2" stroke-opacity="0.55"/>
<path d="M 534.7 1965.9 L 534.7 1966.6 A 20.0 5.4 0 0 0 574.7 1966.6 L 574.7 1965.9 Z" fill="url(#grnG)"/><ellipse cx="554.7" cy="1965.9" rx="20.0" ry="5.4" fill="url(#grnT)"/><path d="M 534.7 1965.9 A 20.0 5.4 0 0 1 574.7 1965.9" fill="none" stroke="#4a6000" stroke-width="1.2" stroke-opacity="0.55"/>
<path d="M 590.5 1960.3 L 590.5 1966.7 A 20.0 5.3 0 0 0 630.5 1966.7 L 630.5 1960.3 Z" fill="url(#grnG)"/><ellipse cx="610.5" cy="1960.3" rx="20.0" ry="5.3" fill="url(#grnT)"/><path d="M 590.5 1960.3 A 20.0 5.3 0 0 1 630.5 1960.3" fill="none" stroke="#4a6000" stroke-width="1.2" stroke-opacity="0.55"/>
<path d="M 646.3 1957.9 L 646.3 1966.7 A 20.0 5.3 0 0 0 686.3 1966.7 L 686.3 1957.9 Z" fill="url(#grnG)"/><ellipse cx="666.3" cy="1957.9" rx="20.0" ry="5.3" fill="url(#grnT)"/><path d="M 646.3 1957.9 A 20.0 5.3 0 0 1 686.3 1957.9" fill="none" stroke="#4a6000" stroke-width="1.2" stroke-opacity="0.55"/>
<path d="M 702.1 1953.9 L 702.1 1966.7 A 20.0 5.3 0 0 0 742.1 1966.7 L 742.1 1953.9 Z" fill="url(#grnG)"/><ellipse cx="722.1" cy="1953.9" rx="20.0" ry="5.3" fill="url(#grnT)"/><path d="M 702.1 1953.9 A 20.0 5.3 0 0 1 742.1 1953.9" fill="none" stroke="#4a6000" stroke-width="1.2" stroke-opacity="0.55"/>
<path d="M 757.9 1945.9 L 757.9 1966.8 A 20.0 5.2 0 0 0 797.9 1966.8 L 797.9 1945.9 Z" fill="url(#grnG)"/><ellipse cx="777.9" cy="1945.9" rx="20.0" ry="5.2" fill="url(#grnT)"/><path d="M 757.9 1945.9 A 20.0 5.2 0 0 1 797.9 1945.9" fill="none" stroke="#4a6000" stroke-width="1.2" stroke-opacity="0.55"/>
<path d="M 813.7 1942.5 L 813.7 1966.8 A 20.0 5.2 0 0 0 853.7 1966.8 L 853.7 1942.5 Z" fill="url(#grnG)"/><ellipse cx="833.7" cy="1942.5" rx="20.0" ry="5.2" fill="url(#grnT)"/><path d="M 813.7 1942.5 A 20.0 5.2 0 0 1 853.7 1942.5" fill="none" stroke="#4a6000" stroke-width="1.2" stroke-opacity="0.55"/>
<path d="M 869.5 1938.7 L 869.5 1966.8 A 20.0 5.2 0 0 0 909.5 1966.8 L 909.5 1938.7 Z" fill="url(#grnG)"/><ellipse cx="889.5" cy="1938.7" rx="20.0" ry="5.2" fill="url(#grnT)"/><path d="M 869.5 1938.7 A 20.0 5.2 0 0 1 909.5 1938.7" fill="none" stroke="#4a6000" stroke-width="1.2" stroke-opacity="0.55"/>
<path d="M 925.3 1923.8 L 925.3 1967.0 A 20.0 5.0 0 0 0 965.3 1967.0 L 965.3 1923.8 Z" fill="url(#grnG)"/><ellipse cx="945.3" cy="1923.8" rx="20.0" ry="5.0" fill="url(#grnT)"/><path d="M 925.3 1923.8 A 20.0 5.0 0 0 1 965.3 1923.8" fill="none" stroke="#4a6000" stroke-width="1.2" stroke-opacity="0.55"/>
<path d="M 981.1 1917.9 L 981.1 1967.0 A 20.0 5.0 0 0 0 1021.1 1967.0 L 1021.1 1917.9 Z" fill="url(#grnG)"/><ellipse cx="1001.1" cy="1917.9" rx="20.0" ry="5.0" fill="url(#grnT)"/><path d="M 981.1 1917.9 A 20.0 5.0 0 0 1 1021.1 1917.9" fill="none" stroke="#4a6000" stroke-width="1.2" stroke-opacity="0.55"/>
<path d="M 1036.9 1900.8 L 1036.9 1967.2 A 20.0 4.8 0 0 0 1076.9 1967.2 L 1076.9 1900.8 Z" fill="url(#grnG)"/><ellipse cx="1056.9" cy="1900.8" rx="20.0" ry="4.8" fill="url(#grnT)"/><path d="M 1036.9 1900.8 A 20.0 4.8 0 0 1 1076.9 1900.8" fill="none" stroke="#4a6000" stroke-width="1.2" stroke-opacity="0.55"/>
<path d="M 1092.7 1885.3 L 1092.7 1967.3 A 20.0 4.7 0 0 0 1132.7 1967.3 L 1132.7 1885.3 Z" fill="url(#grnG)"/><ellipse cx="1112.7" cy="1885.3" rx="20.0" ry="4.7" fill="url(#grnT)"/><path d="M 1092.7 1885.3 A 20.0 4.7 0 0 1 1132.7 1885.3" fill="none" stroke="#4a6000" stroke-width="1.2" stroke-opacity="0.55"/>
<path d="M 1148.5 1873.6 L 1148.5 1967.4 A 20.0 4.6 0 0 0 1188.5 1967.4 L 1188.5 1873.6 Z" fill="url(#grnG)"/><ellipse cx="1168.5" cy="1873.6" rx="20.0" ry="4.6" fill="url(#grnT)"/><path d="M 1148.5 1873.6 A 20.0 4.6 0 0 1 1188.5 1873.6" fill="none" stroke="#4a6000" stroke-width="1.2" stroke-opacity="0.55"/>
<path d="M 1204.3 1873.6 L 1204.3 1967.4 A 20.0 4.6 0 0 0 1244.3 1967.4 L 1244.3 1873.6 Z" fill="url(#grnG)"/><ellipse cx="1224.3" cy="1873.6" rx="20.0" ry="4.6" fill="url(#grnT)"/><path d="M 1204.3 1873.6 A 20.0 4.6 0 0 1 1244.3 1873.6" fill="none" stroke="#4a6000" stroke-width="1.2" stroke-opacity="0.55"/>
<path d="M 1260.1 1873.6 L 1260.1 1967.4 A 20.0 4.6 0 0 0 1300.1 1967.4 L 1300.1 1873.6 Z" fill="url(#grnG)"/><ellipse cx="1280.1" cy="1873.6" rx="20.0" ry="4.6" fill="url(#grnT)"/><path d="M 1260.1 1873.6 A 20.0 4.6 0 0 1 1300.1 1873.6" fill="none" stroke="#4a6000" stroke-width="1.2" stroke-opacity="0.55"/>
<path d="M 1315.9 1812.0 L 1315.9 1968.0 A 20.0 4.0 0 0 0 1355.9 1968.0 L 1355.9 1812.0 Z" fill="url(#grnG)"/><ellipse cx="1335.9" cy="1812.0" rx="20.0" ry="4.0" fill="url(#grnT)"/><path d="M 1315.9 1812.0 A 20.0 4.0 0 0 1 1355.9 1812.0" fill="none" stroke="#4a6000" stroke-width="1.2" stroke-opacity="0.55"/>
<path d="M 1371.7 1799.6 L 1371.7 1968.1 A 20.0 3.9 0 0 0 1411.7 1968.1 L 1411.7 1799.6 Z" fill="url(#grnG)"/><ellipse cx="1391.7" cy="1799.6" rx="20.0" ry="3.9" fill="url(#grnT)"/><path d="M 1371.7 1799.6 A 20.0 3.9 0 0 1 1411.7 1799.6" fill="none" stroke="#4a6000" stroke-width="1.2" stroke-opacity="0.55"/>
<path d="M 1427.5 1777.3 L 1427.5 1968.3 A 20.0 3.7 0 0 0 1467.5 1968.3 L 1467.5 1777.3 Z" fill="url(#grnG)"/><ellipse cx="1447.5" cy="1777.3" rx="20.0" ry="3.7" fill="url(#grnT)"/><path d="M 1427.5 1777.3 A 20.0 3.7 0 0 1 1467.5 1777.3" fill="none" stroke="#4a6000" stroke-width="1.2" stroke-opacity="0.55"/>
<path d="M 1483.3 1753.3 L 1483.3 1968.5 A 20.0 3.5 0 0 0 1523.3 1968.5 L 1523.3 1753.3 Z" fill="url(#grnG)"/><ellipse cx="1503.3" cy="1753.3" rx="20.0" ry="3.5" fill="url(#grnT)"/><path d="M 1483.3 1753.3 A 20.0 3.5 0 0 1 1523.3 1753.3" fill="none" stroke="#4a6000" stroke-width="1.2" stroke-opacity="0.55"/>
<path d="M 1539.1 1738.8 L 1539.1 1968.7 A 20.0 3.4 0 0 0 1579.1 1968.7 L 1579.1 1738.8 Z" fill="url(#grnG)"/><ellipse cx="1559.1" cy="1738.8" rx="20.0" ry="3.4" fill="url(#grnT)"/><path d="M 1539.1 1738.8 A 20.0 3.4 0 0 1 1579.1 1738.8" fill="none" stroke="#4a6000" stroke-width="1.2" stroke-opacity="0.55"/>
<path d="M 1594.9 1679.5 L 1594.9 1969.2 A 20.0 2.8 0 0 0 1634.9 1969.2 L 1634.9 1679.5 Z" fill="url(#grnG)"/><ellipse cx="1614.9" cy="1679.5" rx="20.0" ry="2.8" fill="url(#grnT)"/><path d="M 1594.9 1679.5 A 20.0 2.8 0 0 1 1634.9 1679.5" fill="none" stroke="#4a6000" stroke-width="1.2" stroke-opacity="0.55"/>
<path d="M 1650.7 1657.8 L 1650.7 1969.4 A 20.0 2.6 0 0 0 1690.7 1969.4 L 1690.7 1657.8 Z" fill="url(#grnG)"/><ellipse cx="1670.7" cy="1657.8" rx="20.0" ry="2.6" fill="url(#grnT)"/><path d="M 1650.7 1657.8 A 20.0 2.6 0 0 1 1690.7 1657.8" fill="none" stroke="#4a6000" stroke-width="1.2" stroke-opacity="0.55"/>
<path d="M 1706.5 1614.1 L 1706.5 1969.8 A 20.0 2.2 0 0 0 1746.5 1969.8 L 1746.5 1614.1 Z" fill="url(#grnG)"/><ellipse cx="1726.5" cy="1614.1" rx="20.0" ry="2.2" fill="url(#grnT)"/><path d="M 1706.5 1614.1 A 20.0 2.2 0 0 1 1746.5 1614.1" fill="none" stroke="#4a6000" stroke-width="1.2" stroke-opacity="0.55"/>
<path d="M 1762.3 1502.0 L 1762.3 1969.8 A 20.0 2.2 0 0 0 1802.3 1969.8 L 1802.3 1502.0 Z" fill="url(#grnG)"/><ellipse cx="1782.3" cy="1502.0" rx="20.0" ry="2.2" fill="url(#grnT)"/><path d="M 1762.3 1502.0 A 20.0 2.2 0 0 1 1802.3 1502.0" fill="none" stroke="#4a6000" stroke-width="1.2" stroke-opacity="0.55"/>
<path d="M 1818.1 1499.4 L 1818.1 1969.8 A 20.0 2.2 0 0 0 1858.1 1969.8 L 1858.1 1499.4 Z" fill="url(#grnG)"/><ellipse cx="1838.1" cy="1499.4" rx="20.0" ry="2.2" fill="url(#grnT)"/><path d="M 1818.1 1499.4 A 20.0 2.2 0 0 1 1858.1 1499.4" fill="none" stroke="#4a6000" stroke-width="1.2" stroke-opacity="0.55"/>
<path d="M 1873.9 1455.0 L 1873.9 1969.8 A 20.0 2.2 0 0 0 1913.9 1969.8 L 1913.9 1455.0 Z" fill="url(#grnG)"/><ellipse cx="1893.9" cy="1455.0" rx="20.0" ry="2.2" fill="url(#grnT)"/><path d="M 1873.9 1455.0 A 20.0 2.2 0 0 1 1913.9 1455.0" fill="none" stroke="#4a6000" stroke-width="1.2" stroke-opacity="0.55"/>
<path d="M 1929.7 1326.2 L 1929.7 1969.8 A 20.0 2.2 0 0 0 1969.7 1969.8 L 1969.7 1326.2 Z" fill="url(#grnG)"/><ellipse cx="1949.7" cy="1326.2" rx="20.0" ry="2.2" fill="url(#grnT)"/><path d="M 1929.7 1326.2 A 20.0 2.2 0 0 1 1969.7 1326.2" fill="none" stroke="#4a6000" stroke-width="1.2" stroke-opacity="0.55"/>
<path d="M 1985.5 1306.4 L 1985.5 1969.8 A 20.0 2.2 0 0 0 2025.5 1969.8 L 2025.5 1306.4 Z" fill="url(#grnG)"/><ellipse cx="2005.5" cy="1306.4" rx="20.0" ry="2.2" fill="url(#grnT)"/><path d="M 1985.5 1306.4 A 20.0 2.2 0 0 1 2025.5 1306.4" fill="none" stroke="#4a6000" stroke-width="1.2" stroke-opacity="0.55"/>
<path d="M 2041.3 1226.7 L 2041.3 1969.8 A 20.0 2.2 0 0 0 2081.3 1969.8 L 2081.3 1226.7 Z" fill="url(#grnG)"/><ellipse cx="2061.3" cy="1226.7" rx="20.0" ry="2.2" fill="url(#grnT)"/><path d="M 2041.3 1226.7 A 20.0 2.2 0 0 1 2081.3 1226.7" fill="none" stroke="#4a6000" stroke-width="1.2" stroke-opacity="0.55"/>
<path d="M 2097.1 1176.1 L 2097.1 1969.8 A 20.0 2.2 0 0 0 2137.1 1969.8 L 2137.1 1176.1 Z" fill="url(#grnG)"/><ellipse cx="2117.1" cy="1176.1" rx="20.0" ry="2.2" fill="url(#grnT)"/><path d="M 2097.1 1176.1 A 20.0 2.2 0 0 1 2137.1 1176.1" fill="none" stroke="#4a6000" stroke-width="1.2" stroke-opacity="0.55"/>
<path d="M 448.2 1984.9 L 448.2 1983.1 A 21.8 5.9 0 0 0 491.8 1983.1 L 491.8 1984.9 Z" fill="url(#purG)"/><ellipse cx="470.0" cy="1984.9" rx="21.8" ry="5.9" fill="url(#purT)"/><path d="M 448.2 1984.9 A 21.8 5.9 0 0 1 491.8 1984.9" fill="none" stroke="#5a0a6a" stroke-width="1.2" stroke-opacity="0.55"/>
<path d="M 506.0 1983.7 L 506.0 1983.1 A 21.8 5.9 0 0 0 549.5 1983.1 L 549.5 1983.7 Z" fill="url(#purG)"/><ellipse cx="527.7" cy="1983.7" rx="21.8" ry="5.9" fill="url(#purT)"/><path d="M 506.0 1983.7 A 21.8 5.9 0 0 1 549.5 1983.7" fill="none" stroke="#5a0a6a" stroke-width="1.2" stroke-opacity="0.55"/>
<path d="M 563.7 1978.9 L 563.7 1983.1 A 21.8 5.9 0 0 0 607.2 1983.1 L 607.2 1978.9 Z" fill="url(#purG)"/><ellipse cx="585.5" cy="1978.9" rx="21.8" ry="5.9" fill="url(#purT)"/><path d="M 563.7 1978.9 A 21.8 5.9 0 0 1 607.2 1978.9" fill="none" stroke="#5a0a6a" stroke-width="1.2" stroke-opacity="0.55"/>
<path d="M 621.5 1977.6 L 621.5 1983.2 A 21.8 5.8 0 0 0 665.0 1983.2 L 665.0 1977.6 Z" fill="url(#purG)"/><ellipse cx="643.2" cy="1977.6" rx="21.8" ry="5.8" fill="url(#purT)"/><path d="M 621.5 1977.6 A 21.8 5.8 0 0 1 665.0 1977.6" fill="none" stroke="#5a0a6a" stroke-width="1.2" stroke-opacity="0.55"/>
<path d="M 679.2 1972.3 L 679.2 1983.2 A 21.8 5.8 0 0 0 722.7 1983.2 L 722.7 1972.3 Z" fill="url(#purG)"/><ellipse cx="701.0" cy="1972.3" rx="21.8" ry="5.8" fill="url(#purT)"/><path d="M 679.2 1972.3 A 21.8 5.8 0 0 1 722.7 1972.3" fill="none" stroke="#5a0a6a" stroke-width="1.2" stroke-opacity="0.55"/>
<path d="M 737.0 1964.7 L 737.0 1983.3 A 21.8 5.7 0 0 0 780.5 1983.3 L 780.5 1964.7 Z" fill="url(#purG)"/><ellipse cx="758.7" cy="1964.7" rx="21.8" ry="5.7" fill="url(#purT)"/><path d="M 737.0 1964.7 A 21.8 5.7 0 0 1 780.5 1964.7" fill="none" stroke="#5a0a6a" stroke-width="1.2" stroke-opacity="0.55"/>
<path d="M 794.7 1965.0 L 794.7 1983.3 A 21.8 5.7 0 0 0 838.2 1983.3 L 838.2 1965.0 Z" fill="url(#purG)"/><ellipse cx="816.4" cy="1965.0" rx="21.8" ry="5.7" fill="url(#purT)"/><path d="M 794.7 1965.0 A 21.8 5.7 0 0 1 838.2 1965.0" fill="none" stroke="#5a0a6a" stroke-width="1.2" stroke-opacity="0.55"/>
<path d="M 852.4 1966.7 L 852.4 1983.3 A 21.8 5.7 0 0 0 895.9 1983.3 L 895.9 1966.7 Z" fill="url(#purG)"/><ellipse cx="874.2" cy="1966.7" rx="21.8" ry="5.7" fill="url(#purT)"/><path d="M 852.4 1966.7 A 21.8 5.7 0 0 1 895.9 1966.7" fill="none" stroke="#5a0a6a" stroke-width="1.2" stroke-opacity="0.55"/>
<path d="M 910.2 1957.2 L 910.2 1983.3 A 21.8 5.7 0 0 0 953.7 1983.3 L 953.7 1957.2 Z" fill="url(#purG)"/><ellipse cx="931.9" cy="1957.2" rx="21.8" ry="5.7" fill="url(#purT)"/><path d="M 910.2 1957.2 A 21.8 5.7 0 0 1 953.7 1957.2" fill="none" stroke="#5a0a6a" stroke-width="1.2" stroke-opacity="0.55"/>
<path d="M 967.9 1953.2 L 967.9 1983.4 A 21.8 5.6 0 0 0 1011.4 1983.4 L 1011.4 1953.2 Z" fill="url(#purG)"/><ellipse cx="989.7" cy="1953.2" rx="21.8" ry="5.6" fill="url(#purT)"/><path d="M 967.9 1953.2 A 21.8 5.6 0 0 1 1011.4 1953.2" fill="none" stroke="#5a0a6a" stroke-width="1.2" stroke-opacity="0.55"/>
<path d="M 1025.7 1943.3 L 1025.7 1983.5 A 21.8 5.5 0 0 0 1069.2 1983.5 L 1069.2 1943.3 Z" fill="url(#purG)"/><ellipse cx="1047.4" cy="1943.3" rx="21.8" ry="5.5" fill="url(#purT)"/><path d="M 1025.7 1943.3 A 21.8 5.5 0 0 1 1069.2 1943.3" fill="none" stroke="#5a0a6a" stroke-width="1.2" stroke-opacity="0.55"/>
<path d="M 1083.4 1940.8 L 1083.4 1983.5 A 21.8 5.5 0 0 0 1126.9 1983.5 L 1126.9 1940.8 Z" fill="url(#purG)"/><ellipse cx="1105.1" cy="1940.8" rx="21.8" ry="5.5" fill="url(#purT)"/><path d="M 1083.4 1940.8 A 21.8 5.5 0 0 1 1126.9 1940.8" fill="none" stroke="#5a0a6a" stroke-width="1.2" stroke-opacity="0.55"/>
<path d="M 1141.1 1929.3 L 1141.1 1983.6 A 21.8 5.4 0 0 0 1184.6 1983.6 L 1184.6 1929.3 Z" fill="url(#purG)"/><ellipse cx="1162.9" cy="1929.3" rx="21.8" ry="5.4" fill="url(#purT)"/><path d="M 1141.1 1929.3 A 21.8 5.4 0 0 1 1184.6 1929.3" fill="none" stroke="#5a0a6a" stroke-width="1.2" stroke-opacity="0.55"/>
<path d="M 1198.9 1929.3 L 1198.9 1983.6 A 21.8 5.4 0 0 0 1242.4 1983.6 L 1242.4 1929.3 Z" fill="url(#purG)"/><ellipse cx="1220.6" cy="1929.3" rx="21.8" ry="5.4" fill="url(#purT)"/><path d="M 1198.9 1929.3 A 21.8 5.4 0 0 1 1242.4 1929.3" fill="none" stroke="#5a0a6a" stroke-width="1.2" stroke-opacity="0.55"/>
<path d="M 1256.6 1941.5 L 1256.6 1983.5 A 21.8 5.5 0 0 0 1300.1 1983.5 L 1300.1 1941.5 Z" fill="url(#purG)"/><ellipse cx="1278.4" cy="1941.5" rx="21.8" ry="5.5" fill="url(#purT)"/><path d="M 1256.6 1941.5 A 21.8 5.5 0 0 1 1300.1 1941.5" fill="none" stroke="#5a0a6a" stroke-width="1.2" stroke-opacity="0.55"/>
<path d="M 1314.3 1898.9 L 1314.3 1983.9 A 21.8 5.1 0 0 0 1357.8 1983.9 L 1357.8 1898.9 Z" fill="url(#purG)"/><ellipse cx="1336.1" cy="1898.9" rx="21.8" ry="5.1" fill="url(#purT)"/><path d="M 1314.3 1898.9 A 21.8 5.1 0 0 1 1357.8 1898.9" fill="none" stroke="#5a0a6a" stroke-width="1.2" stroke-opacity="0.55"/>
<path d="M 1372.1 1905.0 L 1372.1 1983.8 A 21.8 5.2 0 0 0 1415.6 1983.8 L 1415.6 1905.0 Z" fill="url(#purG)"/><ellipse cx="1393.8" cy="1905.0" rx="21.8" ry="5.2" fill="url(#purT)"/><path d="M 1372.1 1905.0 A 21.8 5.2 0 0 1 1415.6 1905.0" fill="none" stroke="#5a0a6a" stroke-width="1.2" stroke-opacity="0.55"/>
<path d="M 1429.8 1890.6 L 1429.8 1983.9 A 21.8 5.1 0 0 0 1473.3 1983.9 L 1473.3 1890.6 Z" fill="url(#purG)"/><ellipse cx="1451.6" cy="1890.6" rx="21.8" ry="5.1" fill="url(#purT)"/><path d="M 1429.8 1890.6 A 21.8 5.1 0 0 1 1473.3 1890.6" fill="none" stroke="#5a0a6a" stroke-width="1.2" stroke-opacity="0.55"/>
<path d="M 1487.6 1882.1 L 1487.6 1984.0 A 21.8 5.0 0 0 0 1531.1 1984.0 L 1531.1 1882.1 Z" fill="url(#purG)"/><ellipse cx="1509.3" cy="1882.1" rx="21.8" ry="5.0" fill="url(#purT)"/><path d="M 1487.6 1882.1 A 21.8 5.0 0 0 1 1531.1 1882.1" fill="none" stroke="#5a0a6a" stroke-width="1.2" stroke-opacity="0.55"/>
<path d="M 1545.3 1860.5 L 1545.3 1984.2 A 21.8 4.8 0 0 0 1588.8 1984.2 L 1588.8 1860.5 Z" fill="url(#purG)"/><ellipse cx="1567.1" cy="1860.5" rx="21.8" ry="4.8" fill="url(#purT)"/><path d="M 1545.3 1860.5 A 21.8 4.8 0 0 1 1588.8 1860.5" fill="none" stroke="#5a0a6a" stroke-width="1.2" stroke-opacity="0.55"/>
<path d="M 1603.0 1877.3 L 1603.0 1984.1 A 21.8 4.9 0 0 0 1646.5 1984.1 L 1646.5 1877.3 Z" fill="url(#purG)"/><ellipse cx="1624.8" cy="1877.3" rx="21.8" ry="4.9" fill="url(#purT)"/><path d="M 1603.0 1877.3 A 21.8 4.9 0 0 1 1646.5 1877.3" fill="none" stroke="#5a0a6a" stroke-width="1.2" stroke-opacity="0.55"/>
<path d="M 1660.8 1861.7 L 1660.8 1984.2 A 21.8 4.8 0 0 0 1704.3 1984.2 L 1704.3 1861.7 Z" fill="url(#purG)"/><ellipse cx="1682.5" cy="1861.7" rx="21.8" ry="4.8" fill="url(#purT)"/><path d="M 1660.8 1861.7 A 21.8 4.8 0 0 1 1704.3 1861.7" fill="none" stroke="#5a0a6a" stroke-width="1.2" stroke-opacity="0.55"/>
<path d="M 1718.5 1846.1 L 1718.5 1984.3 A 21.8 4.7 0 0 0 1762.0 1984.3 L 1762.0 1846.1 Z" fill="url(#purG)"/><ellipse cx="1740.3" cy="1846.1" rx="21.8" ry="4.7" fill="url(#purT)"/><path d="M 1718.5 1846.1 A 21.8 4.7 0 0 1 1762.0 1846.1" fill="none" stroke="#5a0a6a" stroke-width="1.2" stroke-opacity="0.55"/>
<path d="M 1776.3 1782.8 L 1776.3 1984.9 A 21.8 4.1 0 0 0 1819.8 1984.9 L 1819.8 1782.8 Z" fill="url(#purG)"/><ellipse cx="1798.0" cy="1782.8" rx="21.8" ry="4.1" fill="url(#purT)"/><path d="M 1776.3 1782.8 A 21.8 4.1 0 0 1 1819.8 1782.8" fill="none" stroke="#5a0a6a" stroke-width="1.2" stroke-opacity="0.55"/>
<path d="M 1834.0 1790.7 L 1834.0 1984.8 A 21.8 4.2 0 0 0 1877.5 1984.8 L 1877.5 1790.7 Z" fill="url(#purG)"/><ellipse cx="1855.8" cy="1790.7" rx="21.8" ry="4.2" fill="url(#purT)"/><path d="M 1834.0 1790.7 A 21.8 4.2 0 0 1 1877.5 1790.7" fill="none" stroke="#5a0a6a" stroke-width="1.2" stroke-opacity="0.55"/>
<path d="M 1891.8 1760.7 L 1891.8 1985.1 A 21.8 3.9 0 0 0 1935.2 1985.1 L 1935.2 1760.7 Z" fill="url(#purG)"/><ellipse cx="1913.5" cy="1760.7" rx="21.8" ry="3.9" fill="url(#purT)"/><path d="M 1891.8 1760.7 A 21.8 3.9 0 0 1 1935.2 1760.7" fill="none" stroke="#5a0a6a" stroke-width="1.2" stroke-opacity="0.55"/>
<path d="M 1949.5 1674.9 L 1949.5 1985.9 A 21.8 3.1 0 0 0 1993.0 1985.9 L 1993.0 1674.9 Z" fill="url(#purG)"/><ellipse cx="1971.2" cy="1674.9" rx="21.8" ry="3.1" fill="url(#purT)"/><path d="M 1949.5 1674.9 A 21.8 3.1 0 0 1 1993.0 1674.9" fill="none" stroke="#5a0a6a" stroke-width="1.2" stroke-opacity="0.55"/>
<path d="M 2007.2 1617.1 L 2007.2 1986.4 A 21.8 2.6 0 0 0 2050.7 1986.4 L 2050.7 1617.1 Z" fill="url(#purG)"/><ellipse cx="2029.0" cy="1617.1" rx="21.8" ry="2.6" fill="url(#purT)"/><path d="M 2007.2 1617.1 A 21.8 2.6 0 0 1 2050.7 1617.1" fill="none" stroke="#5a0a6a" stroke-width="1.2" stroke-opacity="0.55"/>
<path d="M 2065.0 1572.2 L 2065.0 1986.8 A 21.8 2.2 0 0 0 2108.5 1986.8 L 2108.5 1572.2 Z" fill="url(#purG)"/><ellipse cx="2086.7" cy="1572.2" rx="21.8" ry="2.2" fill="url(#purT)"/><path d="M 2065.0 1572.2 A 21.8 2.2 0 0 1 2108.5 1572.2" fill="none" stroke="#5a0a6a" stroke-width="1.2" stroke-opacity="0.55"/>
<path d="M 2122.7 1520.2 L 2122.7 1986.8 A 21.8 2.2 0 0 0 2166.2 1986.8 L 2166.2 1520.2 Z" fill="url(#purG)"/><ellipse cx="2144.5" cy="1520.2" rx="21.8" ry="2.2" fill="url(#purT)"/><path d="M 2122.7 1520.2 A 21.8 2.2 0 0 1 2166.2 1520.2" fill="none" stroke="#5a0a6a" stroke-width="1.2" stroke-opacity="0.55"/>
<rect x="649.5" y="1224" width="34" height="32.5" fill="#cc00ff" stroke="#8a3fa0" stroke-width="1"/>
<rect x="651" y="1310" width="32.5" height="30" fill="#99cc00"/>
<text x="697" y="1255" font-size="45.5" font-weight="bold" fill="#000" text-anchor="start" textLength="735.5" lengthAdjust="spacingAndGlyphs" >Screen-printed electrode sensor</text>
<text x="697" y="1339.6" font-size="45.5" font-weight="bold" fill="#000" text-anchor="start" textLength="571" lengthAdjust="spacingAndGlyphs" >Screen-printed electrode</text>
<text x="1250.3" y="2176" font-size="45.5" font-weight="bold" fill="#000" text-anchor="start" textLength="95" lengthAdjust="spacingAndGlyphs" >Year</text>
<text transform="translate(252.6 1841) rotate(-90)" x="0" y="0" font-size="45.5" font-weight="bold" textLength="537" lengthAdjust="spacingAndGlyphs">Number of publications</text>
<text transform="translate(470.7 2039) rotate(-71)" x="0" y="0" font-size="40.5" font-weight="bold" text-anchor="end">1990</text>
<text transform="translate(529.4 2039) rotate(-71)" x="0" y="0" font-size="40.5" font-weight="bold" text-anchor="end">1991</text>
<text transform="translate(588.0 2039) rotate(-71)" x="0" y="0" font-size="40.5" font-weight="bold" text-anchor="end">1992</text>
<text transform="translate(646.7 2039) rotate(-71)" x="0" y="0" font-size="40.5" font-weight="bold" text-anchor="end">1993</text>
<text transform="translate(705.4 2039) rotate(-71)" x="0" y="0" font-size="40.5" font-weight="bold" text-anchor="end">1994</text>
<text transform="translate(764.0 2039) rotate(-71)" x="0" y="0" font-size="40.5" font-weight="bold" text-anchor="end">1995</text>
<text transform="translate(822.7 2039) rotate(-71)" x="0" y="0" font-size="40.5" font-weight="bold" text-anchor="end">1996</text>
<text transform="translate(881.4 2039) rotate(-71)" x="0" y="0" font-size="40.5" font-weight="bold" text-anchor="end">1997</text>
<text transform="translate(940.1 2039) rotate(-71)" x="0" y="0" font-size="40.5" font-weight="bold" text-anchor="end">1998</text>
<text transform="translate(998.7 2039) rotate(-71)" x="0" y="0" font-size="40.5" font-weight="bold" text-anchor="end">1999</text>
<text transform="translate(1057.4 2039) rotate(-71)" x="0" y="0" font-size="40.5" font-weight="bold" text-anchor="end">2000</text>
<text transform="translate(1116.1 2039) rotate(-71)" x="0" y="0" font-size="40.5" font-weight="bold" text-anchor="end">2001</text>
<text transform="translate(1174.7 2039) rotate(-71)" x="0" y="0" font-size="40.5" font-weight="bold" text-anchor="end">2002</text>
<text transform="translate(1233.4 2039) rotate(-71)" x="0" y="0" font-size="40.5" font-weight="bold" text-anchor="end">2003</text>
<text transform="translate(1292.1 2039) rotate(-71)" x="0" y="0" font-size="40.5" font-weight="bold" text-anchor="end">2004</text>
<text transform="translate(1350.8 2039) rotate(-71)" x="0" y="0" font-size="40.5" font-weight="bold" text-anchor="end">2005</text>
<text transform="translate(1409.4 2039) rotate(-71)" x="0" y="0" font-size="40.5" font-weight="bold" text-anchor="end">2006</text>
<text transform="translate(1468.1 2039) rotate(-71)" x="0" y="0" font-size="40.5" font-weight="bold" text-anchor="end">2007</text>
<text transform="translate(1526.8 2039) rotate(-71)" x="0" y="0" font-size="40.5" font-weight="bold" text-anchor="end">2008</text>
<text transform="translate(1585.4 2039) rotate(-71)" x="0" y="0" font-size="40.5" font-weight="bold" text-anchor="end">2009</text>
<text transform="translate(1644.1 2039) rotate(-71)" x="0" y="0" font-size="40.5" font-weight="bold" text-anchor="end">2010</text>
<text transform="translate(1702.8 2039) rotate(-71)" x="0" y="0" font-size="40.5" font-weight="bold" text-anchor="end">2011</text>
<text transform="translate(1761.4 2039) rotate(-71)" x="0" y="0" font-size="40.5" font-weight="bold" text-anchor="end">2012</text>
<text transform="translate(1820.1 2039) rotate(-71)" x="0" y="0" font-size="40.5" font-weight="bold" text-anchor="end">2013</text>
<text transform="translate(1878.8 2039) rotate(-71)" x="0" y="0" font-size="40.5" font-weight="bold" text-anchor="end">2014</text>
<text transform="translate(1937.5 2039) rotate(-71)" x="0" y="0" font-size="40.5" font-weight="bold" text-anchor="end">2015</text>
<text transform="translate(1996.1 2039) rotate(-71)" x="0" y="0" font-size="40.5" font-weight="bold" text-anchor="end">2016</text>
<text transform="translate(2054.8 2039) rotate(-71)" x="0" y="0" font-size="40.5" font-weight="bold" text-anchor="end">2017</text>
<text transform="translate(2113.5 2039) rotate(-71)" x="0" y="0" font-size="40.5" font-weight="bold" text-anchor="end">2018</text>
<text transform="translate(2172.1 2039) rotate(-71)" x="0" y="0" font-size="40.5" font-weight="bold" text-anchor="end">2019</text>
</svg>
</body></html>
